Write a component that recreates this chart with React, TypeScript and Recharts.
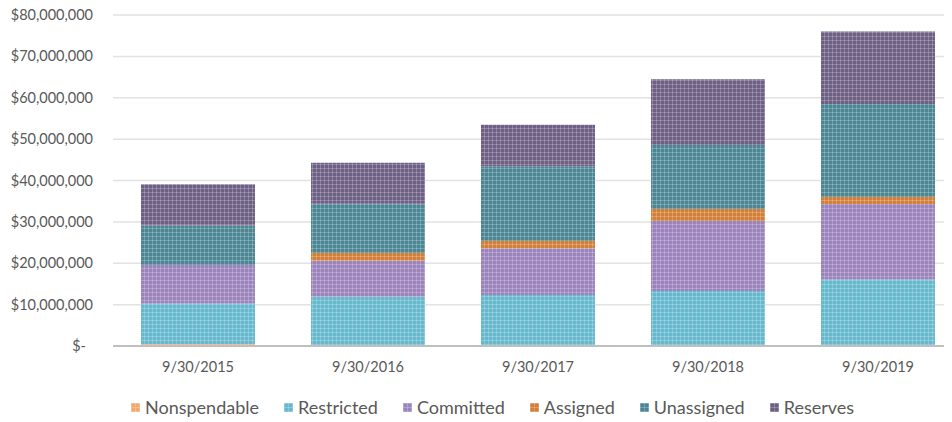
import { BarChart, Bar, XAxis, YAxis, CartesianGrid, Legend } from 'recharts';

const categories = ['9/30/2015', '9/30/2016', '9/30/2017', '9/30/2018', '9/30/2019'];

const nonspendable = [500000, 0, 0, 0, 0];
const restricted = [9800000, 11900000, 12300000, 13300000, 16100000];
const committed = [9300000, 8700000, 11300000, 16900000, 18200000];
const assigned = [0, 1900000, 1800000, 2900000, 1700000];
const unassigned = [9500000, 11900000, 18000000, 15500000, 22500000];
const reserves = [10000000, 9900000, 10100000, 15900000, 17500000];

const yTicks = [0, 10000000, 20000000, 30000000, 40000000, 50000000, 60000000, 70000000, 80000000];

const SERIES = [
  { key: 'Nonspendable', values: nonspendable, color: '#f2a86e' },
  { key: 'Restricted', values: restricted, color: '#66b9cd' },
  { key: 'Committed', values: committed, color: '#9b83bc' },
  { key: 'Assigned', values: assigned, color: '#d47f38' },
  { key: 'Unassigned', values: unassigned, color: '#4c8695' },
  { key: 'Reserves', values: reserves, color: '#6e6084' },
];

const data = categories.map((name, i) => {
  const row: Record<string, string | number> = { name };
  SERIES.forEach((s) => (row[s.key] = s.values[i]));
  return row;
});

const TEXT = '#595959';
const FONT = 'Lato, sans-serif';

const patId = (k: string) => `pat-${k}`;

const fmtMoney = (v: number) => (v === 0 ? '$-' : '$' + v.toLocaleString('en-US'));

const YTick = ({ x, y, payload }: any) => (
  <text
    x={payload.value === 0 ? x - 7 : x}
    y={y}
    dy={5}
    textAnchor="end"
    fill={TEXT}
    fontSize={14.5}
    fontFamily={FONT}
  >
    {fmtMoney(payload.value)}
  </text>
);

const LegendContent = () => (
  <div
    style={{
      display: 'flex',
      alignItems: 'center',
      paddingLeft: 123,
      gap: 25,
      height: 20,
      fontFamily: FONT,
      fontSize: 18,
      color: TEXT,
      whiteSpace: 'nowrap',
    }}
  >
    {SERIES.map((s) => (
      <div key={s.key} style={{ display: 'flex', alignItems: 'center', gap: 5 }}>
        <svg width={9} height={9}>
          <rect width={9} height={9} fill={`url(#${patId(s.key)})`} />
        </svg>
        <span>{s.key}</span>
      </div>
    ))}
  </div>
);

export default function App() {
  return (
    <div style={{ width: 944, height: 422, marginTop: -8, overflow: 'hidden', position: 'relative' }}>
      <svg width={0} height={0} style={{ position: 'absolute' }}>
        <defs>
          {SERIES.map((s) => (
            <pattern key={s.key} id={patId(s.key)} width={4} height={4} patternUnits="userSpaceOnUse">
              <rect width={4} height={4} fill={s.color} />
              <rect width={1} height={4} fill="#ffffff" fillOpacity={0.22} />
              <rect width={4} height={1} fill="#ffffff" fillOpacity={0.22} />
            </pattern>
          ))}
        </defs>
      </svg>
      <BarChart
        width={960}
        height={422}
        data={data}
        margin={{ top: 15, right: 5, left: 0, bottom: 5 }}
        barCategoryGap={28}
      >
        <CartesianGrid vertical={false} stroke="#e2e2e2" strokeWidth={1.5} />
        <XAxis
          dataKey="name"
          height={51}
          tickLine={false}
          tickSize={0}
          tickMargin={16}
          axisLine={{ stroke: '#bfbfbf', strokeWidth: 2 }}
          tick={{ fill: TEXT, fontSize: 14.5, fontFamily: FONT }}
        />
        <YAxis
          width={105}
          domain={[0, 80000000]}
          ticks={yTicks}
          interval={0}
          axisLine={false}
          tickLine={false}
          tickSize={0}
          tickMargin={20}
          tick={<YTick />}
        />
        <Legend verticalAlign="bottom" height={20} wrapperStyle={{ left: 0, width: 960 }} content={<LegendContent />} />
        {SERIES.map((s) => (
          <Bar
            key={s.key}
            dataKey={s.key}
            stackId="a"
            fill={`url(#${patId(s.key)})`}
            isAnimationActive={false}
          />
        ))}
      </BarChart>
    </div>
  );
}
